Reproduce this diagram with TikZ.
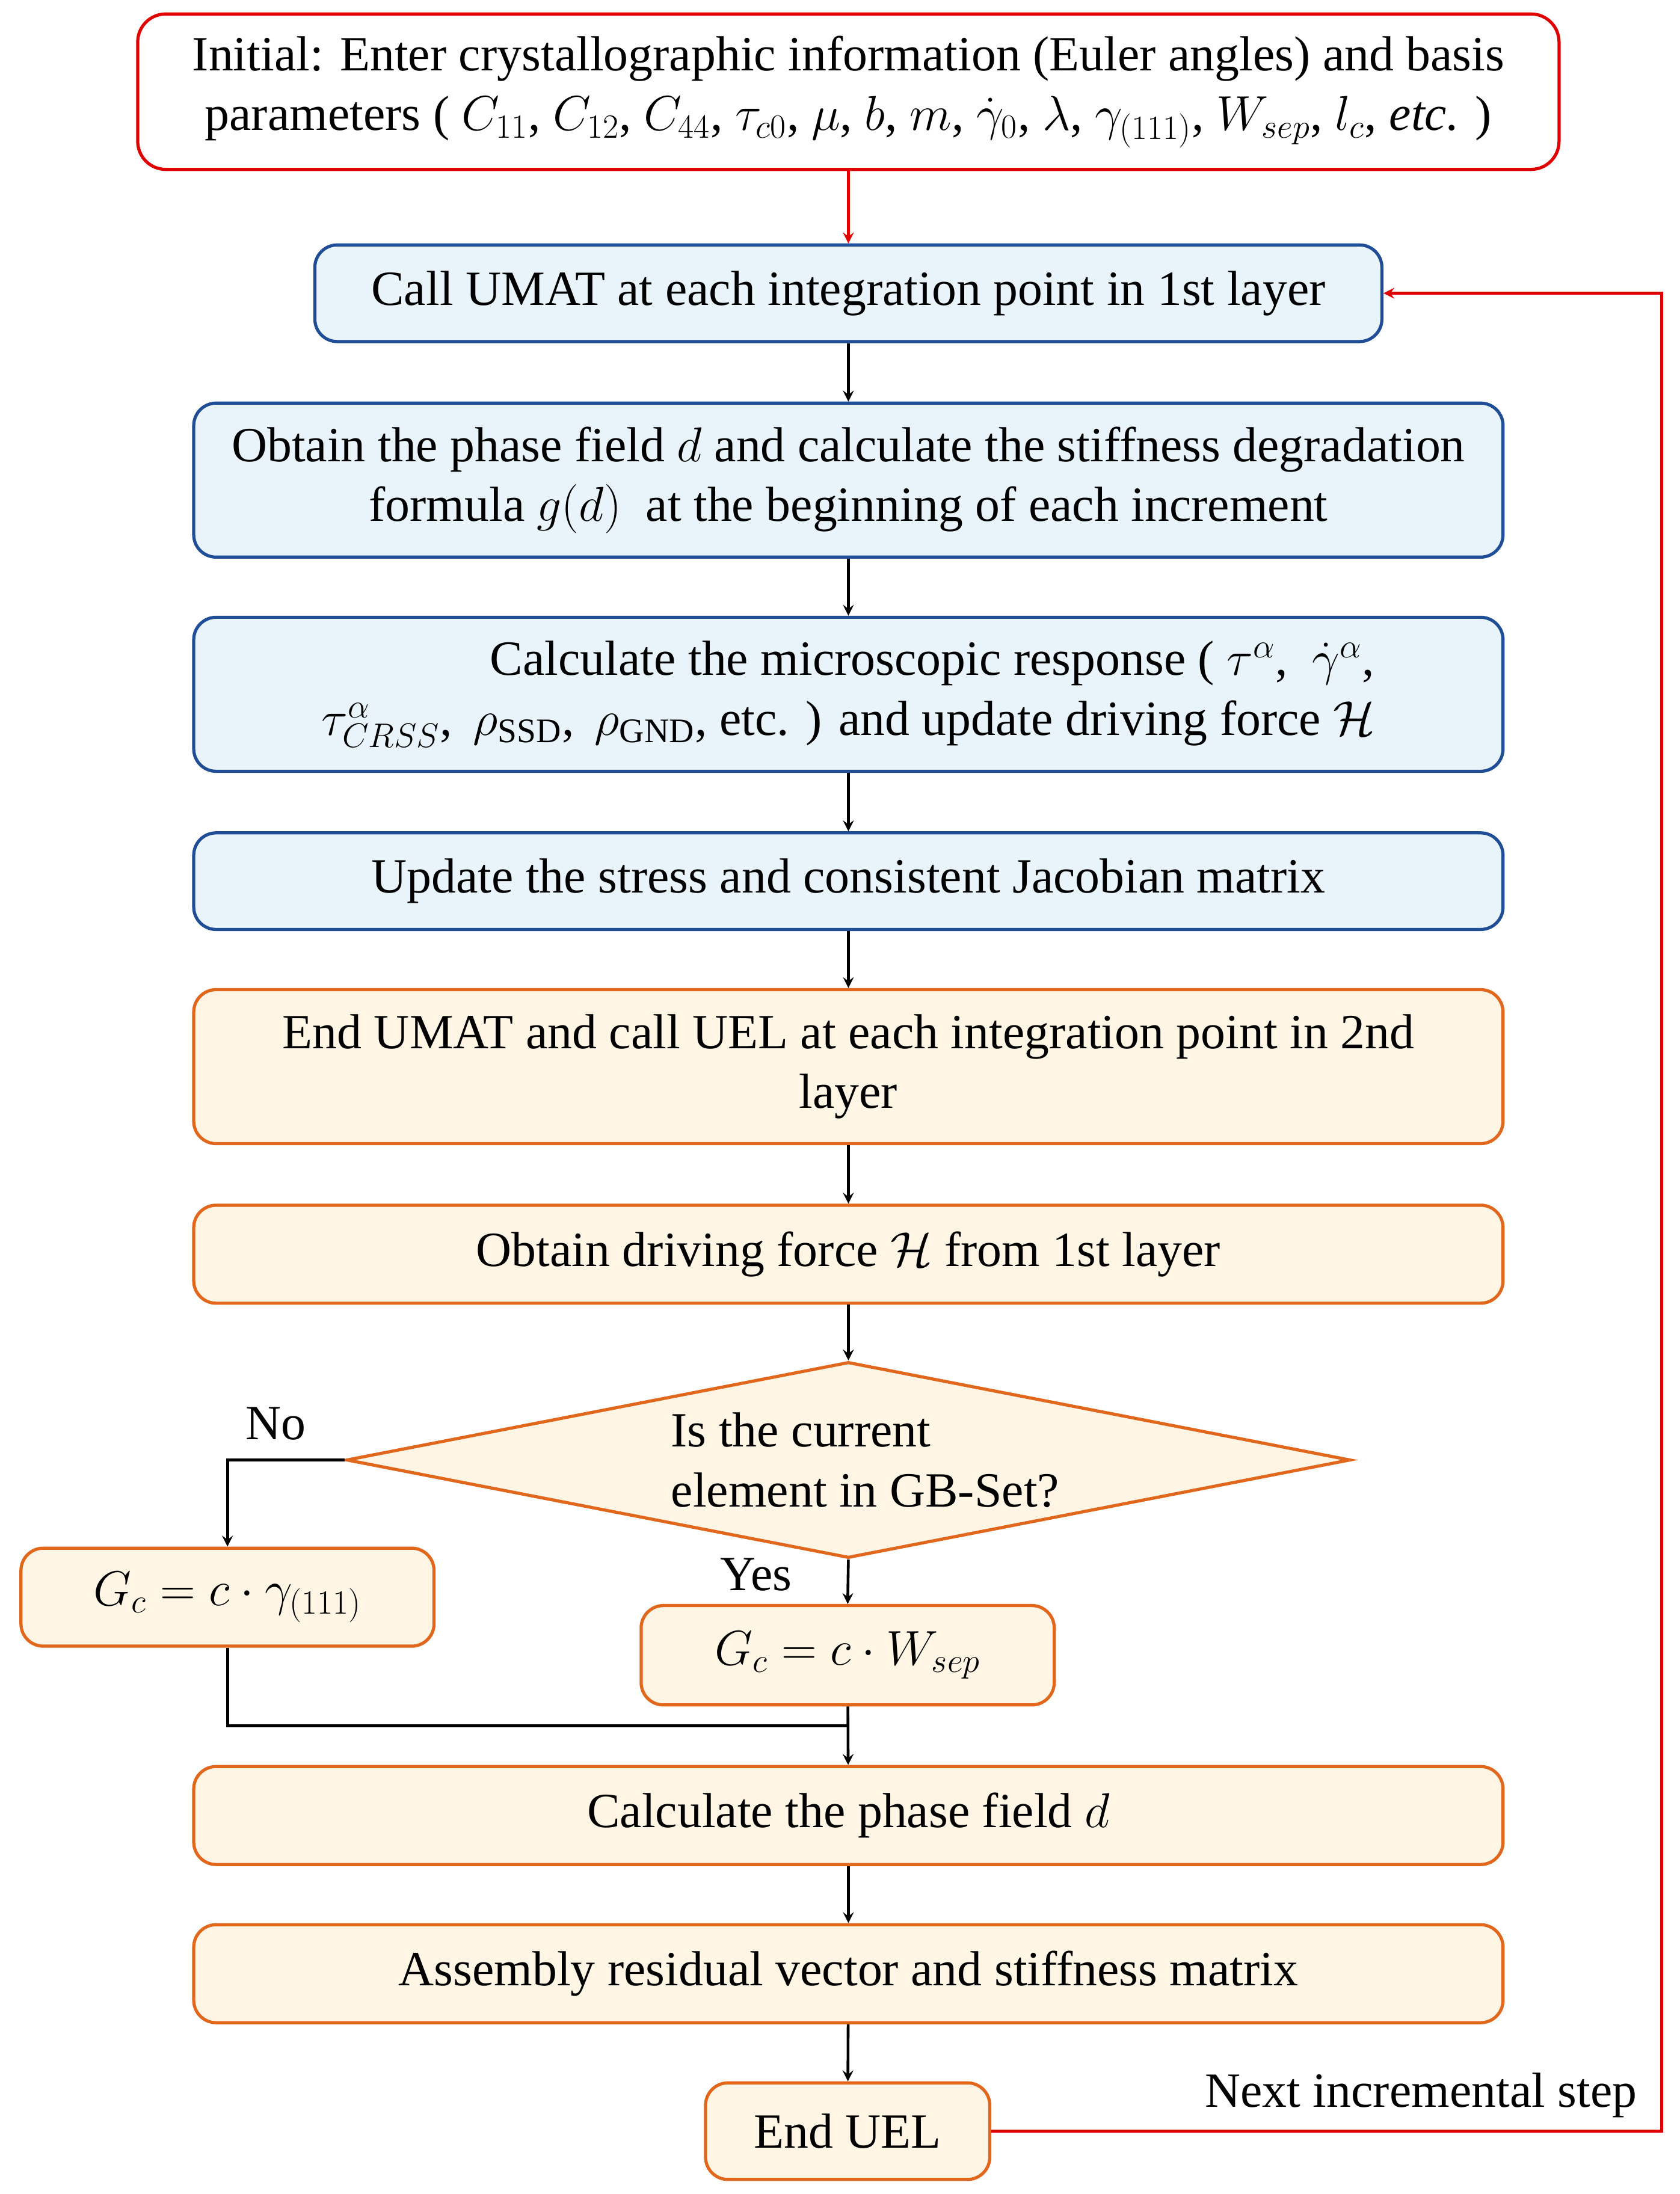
\documentclass[tikz,border=0pt]{standalone}
\usepackage{fontspec}
\setmainfont{Liberation Serif}
\usetikzlibrary{shapes.geometric, arrows}
\definecolor{umatfill}{HTML}{E8F4FA}
\definecolor{umatline}{HTML}{1F4E96}
\definecolor{uelfill}{HTML}{FEF5E4}
\definecolor{uelline}{HTML}{E0671C}
\definecolor{initline}{HTML}{E00000}
\tikzstyle{init} = [rectangle, rounded corners=0.5cm, minimum width=25.375cm, minimum height=2.775cm, align=center, draw=initline, line width=1.6pt, fill=white]
\tikzstyle{umat} = [rectangle, rounded corners=0.4cm, minimum width=23.375cm, align=center, draw=umatline, line width=1.6pt, fill=umatfill]
\tikzstyle{uel} = [rectangle, rounded corners=0.4cm, minimum width=23.375cm, align=center, draw=uelline, line width=1.6pt, fill=uelfill]
\tikzstyle{decision} = [diamond, minimum width=17.925cm, minimum height=3.5cm, inner sep=0pt, draw=uelline, line width=1.6pt, fill=uelfill]
\tikzstyle{arrow} = [line width=1.4pt,->,>=stealth]
\tikzstyle{redarrow} = [line width=1.4pt,->,>=stealth, draw=initline]

\begin{document}
\begin{tikzpicture}[x=0.025cm, y=-0.025cm, font=\fontsize{25}{30.5}\selectfont]
    \useasboundingbox (0,0) rectangle (1200,1567.4);

    % Nodes
    \node (init) [init] at (606,65.5) {Initial: Enter crystallographic information (Euler angles) and basis\\parameters ( $C_{11}$, $C_{12}$, $C_{44}$, $\tau_{c0}$, $\mu$, $b$, $m$, $\dot{\gamma}_0$, $\lambda$, $\gamma_{(111)}$, $W_{sep}$, $l_c$, \textit{etc.} )};
    \node (callumat) [umat, minimum width=19.05cm, minimum height=1.725cm] at (606,209.5) {Call UMAT at each integration point in 1st layer};
    \node (phase) [umat, minimum height=2.75cm] at (606,343) {Obtain the phase field $d$ and calculate the stiffness degradation\\formula $g(d)$~ at the beginning of each increment};
    \node (micro) [umat, minimum height=2.75cm] at (606,496) {\hspace*{3cm}Calculate the microscopic response ( $\tau^{\alpha}$,~ $\dot{\gamma}^{\alpha}$,\\$\tau^{\alpha}_{CRSS}$,\, $\rho_{\mathrm{SSD}}$,\, $\rho_{\mathrm{GND}}$, etc. ) and update driving force $\mathcal{H}$};
    \node (stress) [umat, minimum height=1.725cm] at (606,629.5) {Update the stress and consistent Jacobian matrix};
    \node (calluel) [uel, minimum height=2.75cm] at (606,762) {End UMAT and call UEL at each integration point in 2nd\\layer};
    \node (force) [uel, minimum height=1.75cm] at (606,896) {Obtain driving force $\mathcal{H}$ from 1st layer};
    \node (gbset) [decision] at (606,1043) {};
    \node (gbtext) [align=left] at (618,1043) {Is the current\\element in GB-Set?};
    \node (gcsurf) [uel, minimum width=7.375cm, minimum height=1.75cm] at (162.5,1141) {$G_c = c\cdot\gamma_{(111)}$};
    \node (gcsep) [uel, minimum width=7.375cm, minimum height=1.775cm] at (605.5,1182.5) {$G_c = c\cdot W_{sep}$};
    \node (damage) [uel, minimum height=1.75cm] at (606,1297) {Calculate the phase field $d$};
    \node (assembly) [uel, minimum height=1.75cm] at (606,1410) {Assembly residual vector and stiffness matrix};
    \node (enduel) [uel, minimum width=5.075cm, minimum height=1.725cm] at (605.5,1522.5) {End UEL};
    \node (yes) at (540,1125) {Yes};
    \node (no) at (197,1017) {No};
    \node (next) at (1015,1497) {Next incremental step};
    \coordinate (merge) at (606,1233);
    \coordinate (loop) at (1187,1522.5);

    % Arrows
    \draw [redarrow] (init) -- (callumat);
    \draw [arrow] (callumat) -- (phase);
    \draw [arrow] (phase) -- (micro);
    \draw [arrow] (micro) -- (stress);
    \draw [arrow] (stress) -- (calluel);
    \draw [arrow] (calluel) -- (force);
    \draw [arrow] (force) -- (gbset);
    \draw [arrow] (gbset.west) -| (gcsurf.north);
    \draw [arrow] (gbset.south) -- (gcsep.north);
    \draw [line width=1.4pt] (gcsurf.south) |- (merge);
    \draw [arrow] (gcsep) -- (damage);
    \draw [arrow] (damage) -- (assembly);
    \draw [arrow] (assembly) -- (enduel);
    \draw [redarrow] (enduel.east) -- (loop) |- (callumat.east);
\end{tikzpicture}
\end{document}
